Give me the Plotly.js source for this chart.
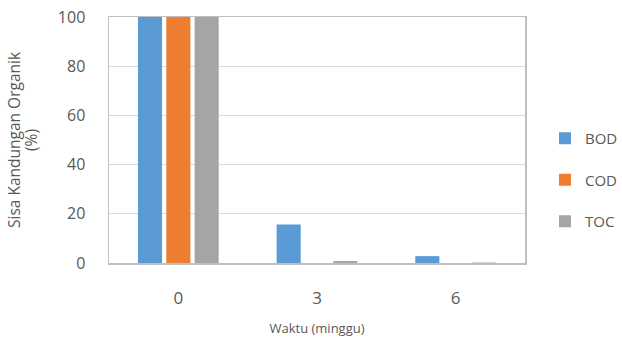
<!DOCTYPE html>
<html><head><meta charset="utf-8">
<script src="https://cdn.plot.ly/plotly-3.0.1.min.js"></script>
<style>body{margin:0}#c{width:622px;height:337px}</style>
</head><body><div id="c"></div>
<script>
const weeks = ["0", "3", "6"];
const seriesNames = ["BOD", "COD", "TOC"];
const bod = [100, 15.7, 2.8];
const cod = [100, 0, 0];
const toc = [100, 0.8, 0.2];
const colors = ["#5B9BD5", "#ED7D31", "#A5A5A5"];
const values = [bod, cod, toc];
const yTitleLines = ["Sisa Kandungan Organik", "(%)"];
const xTitle = "Waktu (minggu)";

const traces = values.map((v, i) => ({
  type: "bar", x: weeks, y: v, name: seriesNames[i], legendgroup: seriesNames[i],
  marker: {color: colors[i]}
}));

const W = 622, H = 337, L = 109, R = 97, T = 17, B = 74;
const pw = W - L - R;
const txtColor = "#595959";
const fam = "Open Sans, Liberation Sans, sans-serif";

const annotations = yTitleLines.map((t, i) => ({
  text: t, textangle: -90, showarrow: false,
  xref: "paper", yref: "paper",
  x: ((i === 0 ? 14 : 31) - L) / pw, y: 0.5,
  xanchor: "center", yanchor: "middle",
  font: {family: fam, size: 15.5, color: txtColor}
}));

Plotly.newPlot("c", traces, {
  width: W, height: H,
  margin: {l: L, r: R, t: T, b: B, autoexpand: false},
  paper_bgcolor: "#fff", plot_bgcolor: "#fff",
  barmode: "group", bargap: 0.387, bargroupgap: 0.15,
  font: {family: fam, color: txtColor},
  xaxis: {type: "category", showgrid: false, showline: true, linecolor: "#BFBFBF", linewidth: 1.5, mirror: true,
          ticks: "", tickfont: {size: 17, color: txtColor}, ticklabelstandoff: 19,
          title: {text: xTitle, font: {size: 13, color: txtColor}, standoff: 16}},
  yaxis: {range: [0, 100], dtick: 20, showgrid: true, gridcolor: "#D9D9D9", gridwidth: 1,
          showline: true, linecolor: "#BFBFBF", linewidth: 1.5, mirror: true, zeroline: false,
          ticks: "", tickfont: {size: 16, color: txtColor}, ticklabelstandoff: 19},
  annotations: annotations,
  legend: {xref: "container", yref: "container", x: 545 / W, y: 1 - 180 / H, yanchor: "middle", xanchor: "left",
           font: {size: 15, color: txtColor}, tracegroupgap: 19, itemwidth: 30},
  showlegend: true
}, {displayModeBar: false, staticPlot: true});
</script></body></html>
